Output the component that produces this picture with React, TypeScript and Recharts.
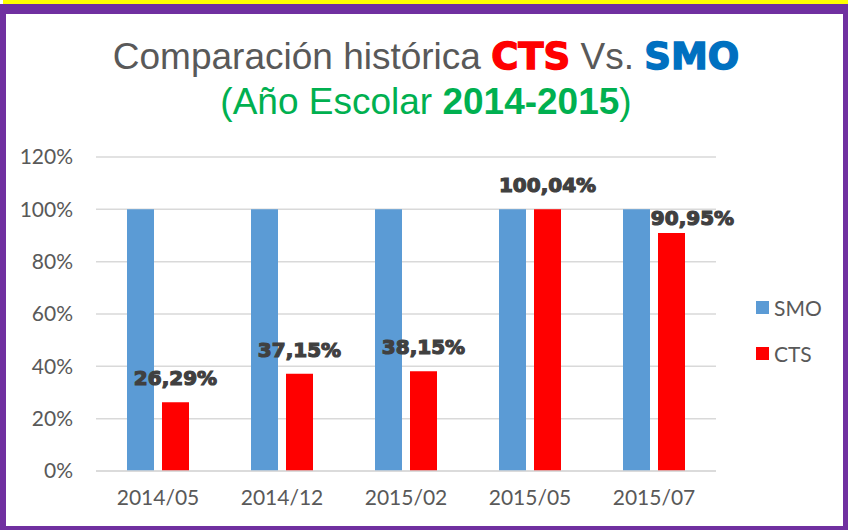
import React from "react";
import { BarChart, Bar, XAxis, YAxis, CartesianGrid, Legend, LabelList } from "recharts";

const categories = ["2014/05", "2014/12", "2015/02", "2015/05", "2015/07"];
const smoValues = [100, 100, 100, 100, 100];
const ctsValues = [26.29, 37.15, 38.15, 100.04, 90.95];
const yTicks = [0, 20, 40, 60, 80, 100, 120];
const legendOrder = ["SMO", "CTS"];

const data = categories.map((c, i) => ({ cat: c, SMO: smoValues[i], CTS: ctsValues[i] }));

const labelShift: Record<number, [number, number]> = { 4: [21, 9] };

const CtsLabel = (props: any) => {
  const { x, y, width, value, index } = props;
  const [dx, dy] = labelShift[index] || [0, 0];
  const txt = Number(value).toFixed(2).replace(".", ",") + "%";
  return (
    <text
      x={x + width / 2 + dx}
      y={y - 24 + dy}
      textAnchor="middle"
      dominantBaseline="central"
      fontFamily="DejaVu Sans"
      fontWeight={700}
      fontSize={20}
      fill="#404040"
      stroke="#404040"
      strokeWidth={1.2}
    >
      {txt}
    </text>
  );
};

const LegendContent = (props: any) => {
  const payload = [...(props.payload || [])].sort(
    (a: any, b: any) => legendOrder.indexOf(a.value) - legendOrder.indexOf(b.value)
  );
  return (
    <div>
      {payload.map((p: any, i: number) => (
        <div key={i} style={{ display: "flex", alignItems: "center", height: 24, marginBottom: i === 0 ? 22 : 0 }}>
          <span style={{ display: "inline-block", width: 13, height: 13, background: p.color, marginRight: 5 }} />
          <span style={{ fontFamily: "Lato", fontSize: 21, color: "#595959" }}>{p.value}</span>
        </div>
      ))}
    </div>
  );
};

export default function App() {
  return (
    <div style={{ position: "absolute", left: 0, top: 0, width: 848, height: 530, background: "#fff", overflow: "hidden" }}>
      <div style={{ position: "absolute", left: 3, top: 0, width: 845, height: 4, background: "#ffff00" }} />
      <div style={{ position: "absolute", left: 0, top: 4, width: 848, height: 526, boxSizing: "border-box", borderTop: "10px solid #7030A0", borderLeft: "6px solid #7030A0", borderRight: "5px solid #7030A0", borderBottom: "4px solid #7030A0" }} />
      <svg style={{ position: "absolute", left: 0, top: 0 }} width={848} height={130}>
        <text x={426} y={69} textAnchor="middle" fontFamily="Liberation Sans" fontSize={37} fill="#595959">
          <tspan>Comparación histórica </tspan>
          <tspan fontFamily="DejaVu Sans" fontWeight={700} fill="#ff0000" stroke="#ff0000" strokeWidth={1.4}>CTS</tspan>
          <tspan> Vs. </tspan>
          <tspan fontFamily="DejaVu Sans" fontWeight={700} fill="#0070C0" stroke="#0070C0" strokeWidth={1.4}>SMO</tspan>
        </text>
        <text x={426} y={114} textAnchor="middle" fontFamily="Liberation Sans" fontSize={37} fill="#00B050">
          <tspan>(Año Escolar </tspan>
          <tspan fontWeight={700}>2014-2015</tspan>
          <tspan>)</tspan>
        </text>
      </svg>
      <div style={{ position: "absolute", left: 0, top: 0 }}>
        <BarChart
          width={848}
          height={530}
          data={data}
          margin={{ top: 157, right: 132, bottom: 19, left: 36 }}
          barCategoryGap="25%"
          barGap={8}
        >
          <CartesianGrid vertical={false} stroke="#d9d9d9" strokeWidth={1.5} />
          <XAxis
            dataKey="cat"
            height={40}
            axisLine={{ stroke: "#d9d9d9", strokeWidth: 1.5 }}
            tickLine={false}
            tickSize={0}
            tickMargin={19}
            tick={{ fontFamily: "Lato", fontSize: 21, fill: "#595959" }}
          />
          <YAxis
            width={60}
            domain={[0, 120]}
            ticks={yTicks}
            interval={0}
            axisLine={false}
            tickLine={false}
            tickSize={0}
            tickMargin={23}
            tickFormatter={(v: number) => `${v}%`}
            tick={{ fontFamily: "Lato", fontSize: 21, fill: "#595959" }}
          />
          <Legend
            layout="horizontal"
            verticalAlign="middle"
            align="center"
            content={<LegendContent />}
            wrapperStyle={{ left: 756, top: 295, width: 90, height: 80 }}
          />
          <Bar dataKey="SMO" fill="#5B9BD5" isAnimationActive={false} />
          <Bar dataKey="CTS" fill="#FF0000" isAnimationActive={false}>
            <LabelList dataKey="CTS" content={<CtsLabel />} />
          </Bar>
        </BarChart>
      </div>
    </div>
  );
}
